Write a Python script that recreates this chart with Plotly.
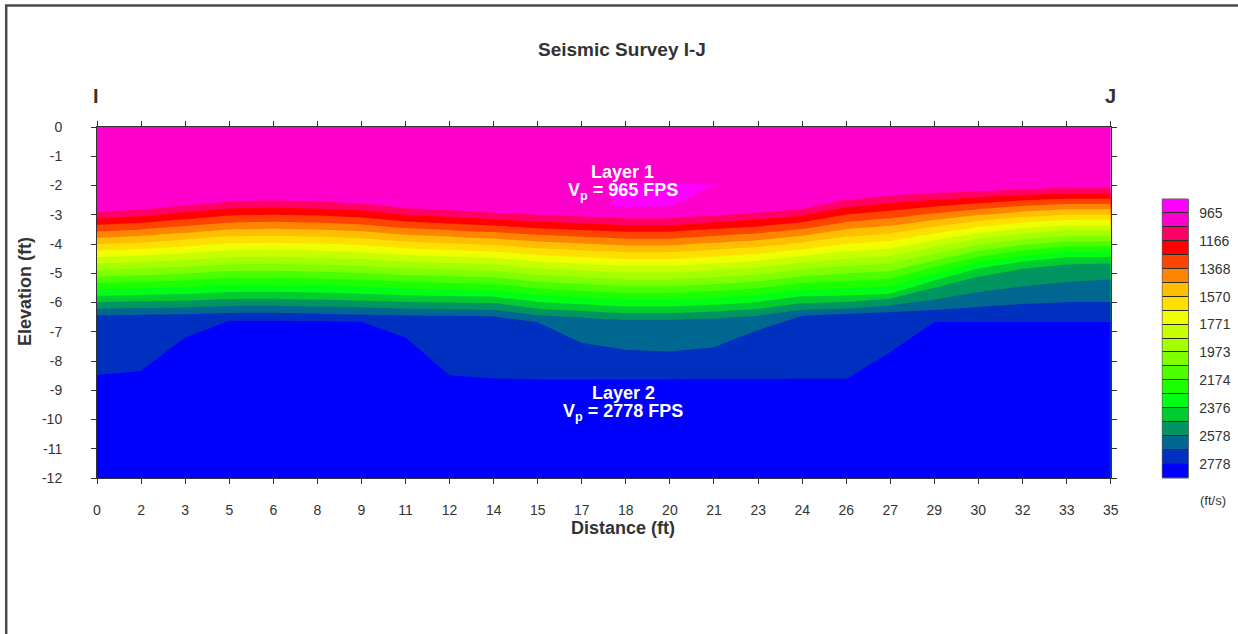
import numpy as np
import plotly.graph_objects as go

# ---------------------------------------------------------------------------
# Survey geometry: geophone stations along line I-J (ft) and their axis labels
# ---------------------------------------------------------------------------
STATION_X = [0.00, 1.52, 3.04, 4.57, 6.09, 7.61, 9.13, 10.65, 12.17, 13.70, 15.22, 16.74,
             18.26, 19.78, 21.30, 22.83, 24.35, 25.87, 27.39, 28.91, 30.43, 31.96, 33.48, 35.00]
STATION_LABELS = ["0", "2", "3", "5", "6", "8", "9", "11", "12", "14", "15", "17",
                  "18", "20", "21", "23", "24", "26", "27", "29", "30", "32", "33", "35"]
ELEV_TICKS = [0, -1, -2, -3, -4, -5, -6, -7, -8, -9, -10, -11, -12]
ELEV_LABELS = ["0", "-1", "-2", "-3", "-4", "-5", "-6", "-7", "-8", "-9", "-10", "-11", "-12"]

# ---------------------------------------------------------------------------
# Velocity scale (ft/s): contour start / interval, legend labels, band colours
# ---------------------------------------------------------------------------
LEVEL_START = 965.0
LEVEL_STEP = 100.72
LEGEND_LABELS = ["965", "1166", "1368", "1570", "1771", "1973", "2174", "2376", "2578", "2778"]
BAND_COLORS = ["#FF00FF", "#FF00CC", "#FF0064", "#FF0000", "#FF4400", "#FF8400",
               "#FFBF00", "#FFDF00", "#F0FF00", "#C8FF00", "#A4FF00", "#80FF00",
               "#4CFF00", "#1CFF00", "#00FF14", "#00CC30", "#009460", "#006890",
               "#0030C0", "#0000FF"]

# ---------------------------------------------------------------------------
# Velocity model: per-station node depths (ft) and node velocities (ft/s)
# ---------------------------------------------------------------------------
SURFACE_DEPTH = 0.0
MODEL_BASE = -12.0
SURFACE_VEL = 1000.0
BASE_VEL = 2830.0

# low-velocity lens inside layer 1
LENS_CAP_DEPTH = [-1.50, -1.50, -1.50, -1.50, -1.50, -1.50, -1.50, -1.50, -1.90, -1.90, -1.90, -1.90,
                  -1.90, -1.90, -1.90, -1.90, -1.90, -1.50, -1.50, -1.50, -1.50, -1.50, -1.50, -1.50]
LENS_TOP_DEPTH = [-1.60, -1.60, -1.60, -1.60, -1.60, -1.60, -1.60, -1.60, -1.97, -1.97, -1.97, -1.97,
                  -1.97, -1.97, -1.97, -1.97, -1.97, -1.60, -1.60, -1.60, -1.60, -1.60, -1.60, -1.60]
LENS_BASE_DEPTH = [-1.80, -1.80, -1.80, -1.80, -1.80, -1.80, -1.80, -1.80, -2.70, -2.70, -2.70, -2.70,
                   -2.70, -2.70, -2.70, -2.70, -2.70, -1.80, -1.80, -1.80, -1.80, -1.80, -1.80, -1.80]
LENS_TOP_VEL = [1000, 1000, 1000, 1000, 1000, 1000, 1000, 1000, 1000, 1000, 1000, 1000,
                950, 950, 964, 1000, 1000, 1000, 1000, 1000, 1000, 1000, 1000, 1000]
LENS_BASE_VEL = [1000, 1000, 1000, 1000, 1000, 1000, 1000, 1000, 1000, 1000, 1000, 1000,
                 950, 964, 1000, 1000, 1000, 1000, 1000, 1000, 1000, 1000, 1000, 1000]

# depth of isovelocity surfaces through the transition into layer 2
DEPTH_1066 = [-2.91, -2.83, -2.69, -2.55, -2.52, -2.55, -2.62, -2.77, -2.85, -2.93, -3.00, -3.06,
              -3.12, -3.12, -3.02, -2.93, -2.80, -2.49, -2.35, -2.26, -2.20, -2.13, -2.09, -2.09]
DEPTH_2375 = [-5.77, -5.74, -5.71, -5.64, -5.63, -5.66, -5.70, -5.75, -5.78, -5.80, -5.98, -6.06,
              -6.14, -6.14, -6.08, -5.98, -5.79, -5.76, -5.70, -5.25, -4.84, -4.60, -4.45, -4.44]
DEPTH_2476 = [-5.99, -5.96, -5.94, -5.88, -5.87, -5.90, -5.94, -5.98, -6.00, -6.02, -6.21, -6.29,
              -6.37, -6.37, -6.31, -6.22, -6.02, -5.98, -5.87, -5.50, -5.12, -4.85, -4.70, -4.67]
DEPTH_2577 = [-6.21, -6.19, -6.17, -6.12, -6.11, -6.14, -6.17, -6.21, -6.23, -6.25, -6.44, -6.52,
              -6.60, -6.60, -6.55, -6.45, -6.25, -6.21, -6.10, -5.90, -5.64, -5.45, -5.30, -5.22]
DEPTH_2677 = [-6.43, -6.41, -6.40, -6.36, -6.35, -6.38, -6.41, -6.44, -6.45, -6.47, -6.67, -7.38,
              -7.61, -7.67, -7.53, -6.94, -6.45, -6.38, -6.33, -6.25, -6.15, -6.05, -5.98, -5.98]
DEPTH_2778 = [-8.47, -8.34, -7.20, -6.62, -6.62, -6.63, -6.66, -7.20, -8.49, -8.60, -8.63, -8.63,
              -8.63, -8.63, -8.62, -8.62, -8.61, -8.61, -7.70, -6.67, -6.67, -6.67, -6.67, -6.67]

FONT = "Liberation Sans"
INK = "#333333"

# ---------------------------------------------------------------------------
# Assemble the structured node grid (rows = node index, columns = stations)
# ---------------------------------------------------------------------------
n_st = len(STATION_X)
const = lambda v: np.full(n_st, float(v))

node_depth = np.vstack([
    const(SURFACE_DEPTH), LENS_CAP_DEPTH, LENS_TOP_DEPTH, LENS_BASE_DEPTH,
    DEPTH_1066, DEPTH_2375, DEPTH_2476, DEPTH_2577, DEPTH_2677, DEPTH_2778,
    const(MODEL_BASE),
])
node_vel = np.vstack([
    const(SURFACE_VEL), const(SURFACE_VEL), LENS_TOP_VEL, LENS_BASE_VEL,
    const(1066), const(2375), const(2476), const(2577), const(2677), const(2778),
    const(BASE_VEL),
])
node_x = np.tile(STATION_X, (node_depth.shape[0], 1))
node_b = list(range(node_depth.shape[0]))

n_bands = len(BAND_COLORS)
band_lo = LEVEL_START - LEVEL_STEP
band_hi = band_lo + n_bands * LEVEL_STEP
level_end = LEVEL_START + (n_bands - 2) * LEVEL_STEP

stepped = []
for i, c in enumerate(BAND_COLORS):
    stepped.append([i / n_bands, c])
    stepped.append([(i + 1) / n_bands, c])

hidden_axis = dict(showgrid=False, showline=False, showticklabels="none",
                   startline=False, endline=False, minorgridcount=0, smoothing=0)

fig = go.Figure()

fig.add_trace(go.Carpet(
    carpet="section", a=STATION_X, b=node_b,
    x=node_x.tolist(), y=node_depth.tolist(),
    aaxis=hidden_axis, baxis=hidden_axis,
    xaxis="x", yaxis="y",
))

fig.add_trace(go.Contourcarpet(
    carpet="section", a=STATION_X, b=node_b, z=node_vel.tolist(),
    autocontour=False,
    contours=dict(start=LEVEL_START, end=level_end, size=LEVEL_STEP,
                  coloring="fill", showlines=False),
    line=dict(width=0, smoothing=0),
    colorscale=stepped, zmin=band_lo, zmax=band_hi,
    showscale=False, xaxis="x", yaxis="y",
))

# discrete legend bar
band_mid = [band_lo + (k + 0.5) * LEVEL_STEP for k in range(n_bands)]
fig.add_trace(go.Heatmap(
    x=[0], y=band_mid, z=[[v] for v in band_mid],
    colorscale=stepped, zmin=band_lo, zmax=band_hi,
    ygap=1, showscale=False, hoverinfo="skip",
    xaxis="x2", yaxis="y2",
))

# ---------------------------------------------------------------------------
# Layout (pixel geometry for a 1238 x 634 page)
# ---------------------------------------------------------------------------
W, H = 1238, 634
ML, MR, MT, MB = 97, 38, 127, 156
PW = W - ML - MR
PH = H - MT - MB
px = lambda x: (x - ML) / PW
py = lambda y: (H - MB - y) / PH

tickfont = dict(family=FONT, size=14, color=INK)

fig.update_layout(
    width=W, height=H,
    margin=dict(l=ML, r=MR, t=MT, b=MB, pad=0, autoexpand=False),
    paper_bgcolor="white", plot_bgcolor="white",
    showlegend=False,
    xaxis=dict(domain=[0, px(1110.7)], range=[0, 35], anchor="y", automargin=False,
               tickmode="array", tickvals=STATION_X, ticktext=STATION_LABELS,
               ticks="outside", ticklen=5, tickwidth=1, tickcolor=INK,
               showline=True, linecolor=INK, linewidth=1, mirror="ticks",
               showgrid=False, zeroline=False, tickfont=tickfont,
               ticklabelstandoff=14),
    yaxis=dict(domain=[0, 1], range=[-12, 0], anchor="x", automargin=False,
               tickmode="array", tickvals=ELEV_TICKS, ticktext=ELEV_LABELS,
               ticks="outside", ticklen=5, tickwidth=1, tickcolor=INK,
               showline=True, linecolor=INK, linewidth=1, mirror="ticks",
               showgrid=False, zeroline=False, tickfont=tickfont,
               ticklabelstandoff=26),
    xaxis2=dict(domain=[px(1162.3), px(1188.3)], range=[-0.5, 0.5], anchor="y2",
                visible=False, fixedrange=True, automargin=False),
    yaxis2=dict(domain=[0, py(199)], range=[band_hi, band_lo], anchor="x2",
                side="right", tickmode="array", automargin=False,
                tickvals=[float(t) for t in LEGEND_LABELS], ticktext=LEGEND_LABELS,
                ticks="", showline=False, showgrid=False, zeroline=False,
                tickfont=tickfont, ticklabelstandoff=10, fixedrange=True),
)

# legend bar frame (shows through the cell gaps)
fig.add_shape(type="rect", xref="x2 domain", yref="y2 domain",
              x0=0, x1=1, y0=0, y1=1, layer="below",
              fillcolor="#2a2a2a", line=dict(color="#555555", width=1))

# page frame
fig.add_shape(type="rect", xref="paper", yref="paper",
              x0=px(6.2), x1=px(W + 10), y0=py(H + 10), y1=py(5.5),
              line=dict(color="#4a4a4a", width=2.5), fillcolor="rgba(0,0,0,0)")

def note(text, x, y, size, color=INK, bold=True, angle=0, xanchor="center"):
    fig.add_annotation(text=f"<b>{text}</b>" if bold else text,
                       xref="paper", yref="paper", x=px(x), y=py(y),
                       xanchor=xanchor, yanchor="middle", showarrow=False,
                       textangle=angle,
                       font=dict(family=FONT, size=size, color=color))

note("Seismic Survey I-J", 621.5, 50, 19)
note("I", 95.5, 96, 20)
note("J", 1110, 96, 20)
note("Elevation (ft)", 25, 292, 18, angle=-90)
note("Distance (ft)", 623, 528, 18)
note("(ft/s)", 1198, 501, 13, bold=False, xanchor="left")

note("Layer 1", 622, 172, 18, color="white")
note("V<sub>p</sub> = 965 FPS", 622.5, 191, 18, color="white")
note("Layer 2", 623, 393, 18, color="white")
note("V<sub>p</sub> = 2778 FPS", 623, 412, 18, color="white")

fig.write_html("out.html")
